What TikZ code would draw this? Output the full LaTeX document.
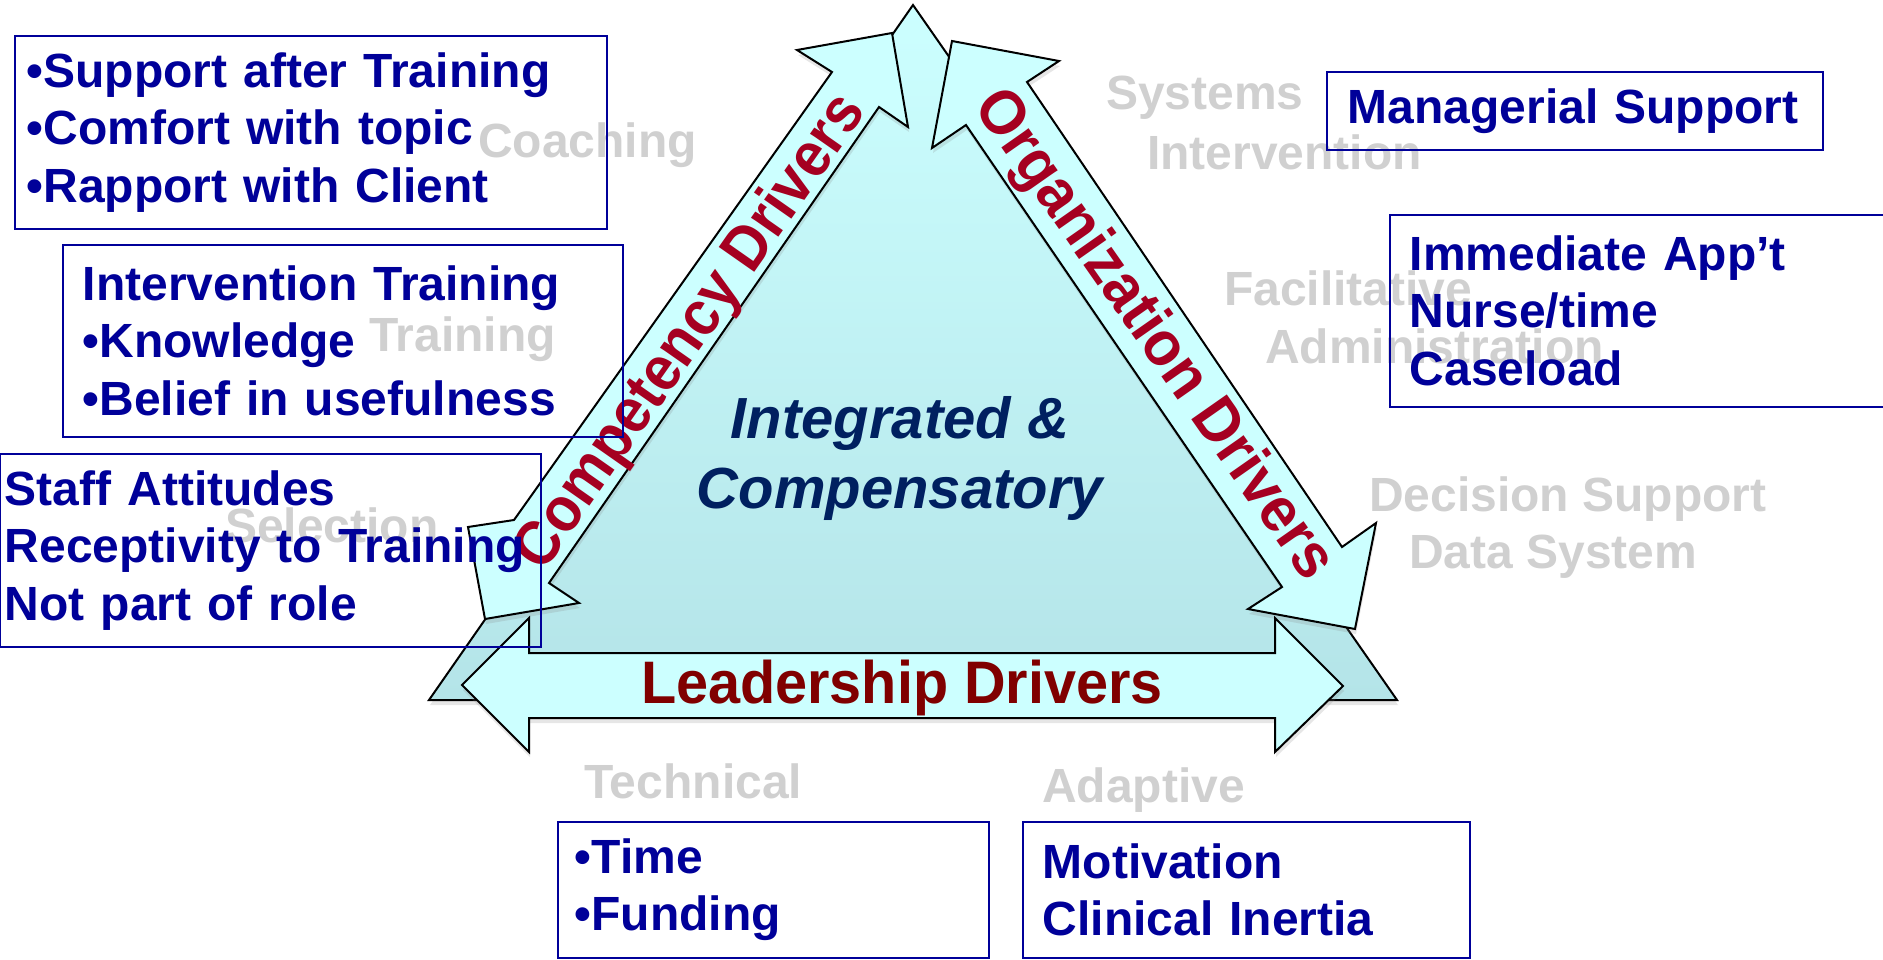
\documentclass[tikz,border=0pt]{standalone}
\usepackage{fontspec}
\setmainfont{Liberation Sans}
\usetikzlibrary{shadows}

\definecolor{boxblue}{HTML}{000099}
\definecolor{drvred}{HTML}{A50021}
\definecolor{leadred}{HTML}{800000}
\definecolor{corenavy}{HTML}{002060}
\definecolor{ghostgray}{HTML}{D0D0D0}
\definecolor{paleaqua}{HTML}{CCFFFF}
\definecolor{deepaqua}{HTML}{B4E4E8}

\newcommand{\boxfont}{\fontsize{48}{57.6}\selectfont\bfseries}

\begin{document}
\begin{tikzpicture}[x=1pt, y=-1pt,
  softshadow/.style={drop shadow={shadow xshift=1pt, shadow yshift=-5pt, opacity=0.2}},
  arrowbody/.style={draw, line width=2pt, fill=paleaqua, softshadow},
  infobox/.style={draw=boxblue, line width=1.6pt, text=boxblue, font=\boxfont, align=left, anchor=north west, inner ysep=0pt},
  ghost/.style={text=ghostgray, font=\boxfont, anchor=west, inner sep=0pt, text height=34pt, text depth=0pt},
  drv/.style={font={\fontsize{63}{70}\selectfont\bfseries}, text=drvred}
]
\useasboundingbox (0,0) rectangle (1883,959);

% triangle behind the three drivers
\draw[line width=2pt, top color=paleaqua, bottom color=deepaqua, softshadow]
  (913,5) -- (1397,700) -- (429,700) -- cycle;

% competency, organization and leadership arrows
\draw[arrowbody] (485,619) -- (579,603) -- (549,583) -- (879,107) -- (908,127) -- (892,33)
  -- (797,50) -- (832,72) -- (514,520) -- (468,527) -- cycle;
\draw[arrowbody] (952,41) -- (1059,61) -- (1027,82) -- (1342,547) -- (1376,523) -- (1355,629)
  -- (1248,609) -- (1282,587) -- (966,125) -- (932,148) -- cycle;
\draw[arrowbody] (462,685) -- (529,618) -- (529,653) -- (1275,653) -- (1275,618) -- (1343,686)
  -- (1275,752) -- (1275,718) -- (529,718) -- (529,752) -- cycle;

\node[drv, rotate=55, xscale=0.92] (comp) at (692,333) {Competency Drivers};
\node[drv, rotate=-55, xscale=0.94] (org) at (1153,336) {Organization Drivers};
\node[drv, text=leadred, font={\fontsize{60}{70}\selectfont\bfseries}, xscale=0.96] (lead) at (902,688) {Leadership Drivers};
\node[font={\fontsize{58}{70}\selectfont\bfseries\itshape}, text=corenavy, align=center] (core) at (900,458) {Integrated \&\\Compensatory};

% component names
\node[ghost] (coach) at (478,140) {Coaching};
\node[ghost] (train) at (369,334) {Training};
\node[ghost] (select) at (225,525) {Selection};
\node[ghost] (sys) at (1106,92) {Systems};
\node[ghost] (sysb) at (1147,152) {Intervention};
\node[ghost] (facil) at (1224,288) {Facilitative};
\node[ghost] (facilb) at (1265,346) {Administration};
\node[ghost] (dss) at (1369,494) {Decision Support};
\node[ghost] (dssb) at (1409,551) {Data System};
\node[ghost] (tech) at (584,781) {Technical};
\node[ghost] (adapt) at (1042,785) {Adaptive};

% barriers
\node[infobox, inner xsep=12pt, text width=568pt, minimum height=193pt] (coachbox) at (14,35)
  {•Support after Training\\•Comfort with topic\\•Rapport with Client};
\node[infobox, inner xsep=20pt, text width=520pt, minimum height=192pt] (trainbox) at (62,244)
  {Intervention Training\\•Knowledge\\•Belief in usefulness};
\node[infobox, inner xsep=5pt, text width=531pt, minimum height=193pt] (selectbox) at (-1,453)
  {Staff Attitudes\\Receptivity to Training\\Not part of role};
\node[infobox, inner xsep=21pt, text width=454pt, minimum height=78pt] (sysbox) at (1326,71)
  {Managerial Support};
\node[infobox, inner xsep=20pt, text width=461pt, minimum height=192pt] (facilbox) at (1389,214)
  {Immediate App’t\\Nurse/time\\Caseload};
\node[infobox, inner xsep=17pt, text width=397pt, minimum height=136pt] (techbox) at (557,821)
  {•Time\\•Funding};
\node[infobox, inner xsep=20pt, text width=407pt, minimum height=136pt] (adaptbox) at (1022,821)
  {Motivation\\Clinical Inertia};
\end{tikzpicture}
\end{document}
